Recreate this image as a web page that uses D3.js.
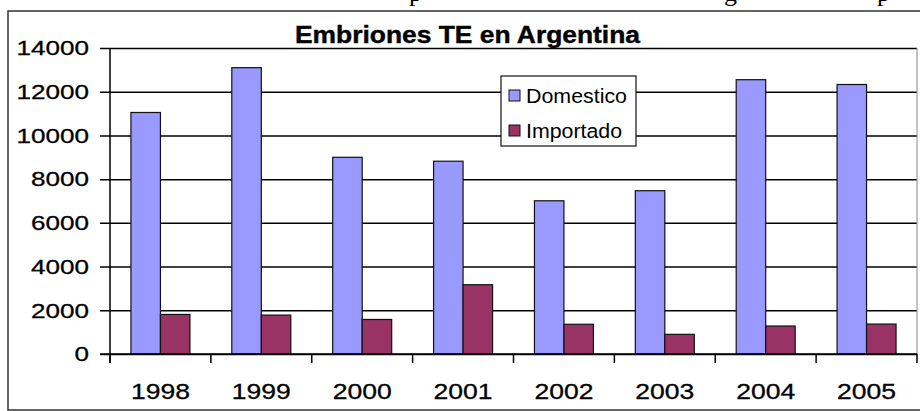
<!DOCTYPE html>
<html>
<head>
<meta charset="utf-8">
<script src="https://cdn.jsdelivr.net/npm/d3@7"></script>
<style>
  body { margin: 0; background: #fff; }
  svg { display: block; }
</style>
</head>
<body>
<div id="chart"></div>
<script>
// data
var years = ["1998", "1999", "2000", "2001", "2002", "2003", "2004", "2005"];
var series = ["Domestico", "Importado"];
var domestico = [11050, 13100, 9000, 8820, 7010, 7470, 12550, 12330];
var importado = [1810, 1780, 1580, 3170, 1360, 900, 1280, 1370];
var yTicks = [0, 2000, 4000, 6000, 8000, 10000, 12000, 14000];
var colors = { Domestico: "#9999ff", Importado: "#993366" };

var width = 920, height = 411;
var plotLeft = 110, plotRight = 917, plotTop = 48, plotBottom = 354;

var svg = d3.select("#chart").append("svg")
    .attr("width", width)
    .attr("height", height);

// cut-off text of the page line above the chart
svg.append("g")
    .attr("font-family", "'Liberation Serif', serif")
    .attr("font-size", 26)
    .selectAll("text")
    .data([["p", 409], ["g", 724], ["p", 877]])
    .enter().append("text")
      .attr("x", function(d) { return d[1]; })
      .attr("y", 1)
      .text(function(d) { return d[0]; });

// chart frame
svg.append("path")
    .attr("d", "M921,11H8V410H921")
    .attr("fill", "none")
    .attr("stroke", "#333")
    .attr("stroke-width", 1.5);

var x = d3.scaleBand().domain(years).range([plotLeft, plotRight]);
var xs = d3.scaleBand().domain(series).range([0, x.bandwidth()]).paddingOuter(0.71);
var y = d3.scaleLinear().domain([0, 14000]).range([plotBottom, plotTop]);

// gridlines + y ticks and labels
var yAxis = svg.append("g")
    .attr("transform", "translate(" + plotRight + ",0)")
    .call(d3.axisLeft(y).tickValues(yTicks).tickSize(plotRight - plotLeft + 10).tickPadding(11).tickFormat(d3.format("d")));
yAxis.select(".domain").remove();
yAxis.selectAll("line").attr("stroke", "#000").attr("stroke-width", 1.5);
yAxis.selectAll("text")
    .attr("font-family", "'Liberation Sans', Arial, sans-serif")
    .attr("font-size", 21)
    .attr("fill", "#000")
    .attr("stroke", "#000")
    .attr("stroke-width", 0.3)
    .attr("textLength", function(d) { return String(d).length * 14.5; })
    .attr("lengthAdjust", "spacingAndGlyphs");

// y axis line and right edge
svg.append("line")
    .attr("x1", plotLeft).attr("x2", plotLeft)
    .attr("y1", plotTop).attr("y2", plotBottom + 9)
    .attr("stroke", "#000").attr("stroke-width", 1.5);
svg.append("line")
    .attr("x1", plotRight).attr("x2", plotRight)
    .attr("y1", plotTop).attr("y2", plotBottom)
    .attr("stroke", "#888").attr("stroke-width", 1);

// bars
var groups = svg.append("g")
  .selectAll("g")
  .data(years)
  .enter().append("g")
    .attr("transform", function(d) { return "translate(" + x(d) + ",0)"; });

groups.selectAll("rect")
  .data(function(d, i) { return [{ key: "Domestico", value: domestico[i] }, { key: "Importado", value: importado[i] }]; })
  .enter().append("rect")
    .attr("x", function(d) { return xs(d.key); })
    .attr("y", function(d) { return y(d.value); })
    .attr("width", xs.bandwidth())
    .attr("height", function(d) { return y(0) - y(d.value); })
    .attr("fill", function(d) { return colors[d.key]; })
    .attr("stroke", "#111")
    .attr("stroke-width", 1.2);

// x axis: baseline, ticks between categories, labels
svg.append("line")
    .attr("x1", plotLeft - 10).attr("x2", plotRight)
    .attr("y1", plotBottom).attr("y2", plotBottom)
    .attr("stroke", "#000").attr("stroke-width", 1.5);

svg.append("g")
  .selectAll("line")
  .data(years.concat(["end"]))
  .enter().append("line")
    .attr("x1", function(d) { return d === "end" ? plotRight : x(d); })
    .attr("x2", function(d) { return d === "end" ? plotRight : x(d); })
    .attr("y1", plotBottom)
    .attr("y2", plotBottom + 9)
    .attr("stroke", "#000")
    .attr("stroke-width", 1.5);

var xAxis = svg.append("g")
    .attr("transform", "translate(0," + plotBottom + ")")
    .call(d3.axisBottom(x).tickSize(0).tickPadding(29));
xAxis.select(".domain").remove();
xAxis.selectAll("text")
    .attr("font-family", "'Liberation Sans', Arial, sans-serif")
    .attr("font-size", 22)
    .attr("fill", "#000")
    .attr("stroke", "#000")
    .attr("stroke-width", 0.3)
    .attr("textLength", 59)
    .attr("lengthAdjust", "spacingAndGlyphs");

// title
svg.append("text")
    .attr("x", 295)
    .attr("y", 43)
    .attr("font-family", "'Liberation Sans', Arial, sans-serif")
    .attr("font-weight", "bold")
    .attr("font-size", 23)
    .attr("stroke", "#000")
    .attr("stroke-width", 0.4)
    .attr("textLength", 345)
    .attr("lengthAdjust", "spacingAndGlyphs")
    .text("Embriones TE en Argentina");

// legend
var legend = svg.append("g").attr("transform", "translate(501,76)");
legend.append("rect")
    .attr("width", 135).attr("height", 70)
    .attr("fill", "#fff")
    .attr("stroke", "#111").attr("stroke-width", 1.2);

var item = legend.selectAll("g.item")
  .data(series)
  .enter().append("g")
    .attr("class", "item")
    .attr("transform", function(d, i) { return "translate(0," + (i * 35) + ")"; });

item.append("rect")
    .attr("x", 8).attr("y", 14)
    .attr("width", 11).attr("height", 11)
    .attr("fill", function(d) { return colors[d]; })
    .attr("stroke", "#111").attr("stroke-width", 1);

item.append("text")
    .attr("x", 25).attr("y", 27)
    .attr("font-family", "'Liberation Sans', Arial, sans-serif")
    .attr("font-size", 20)
    .attr("textLength", function(d) { return d === "Domestico" ? 101 : 96; })
    .attr("lengthAdjust", "spacingAndGlyphs")
    .text(function(d) { return d; });
</script>
</body>
</html>
